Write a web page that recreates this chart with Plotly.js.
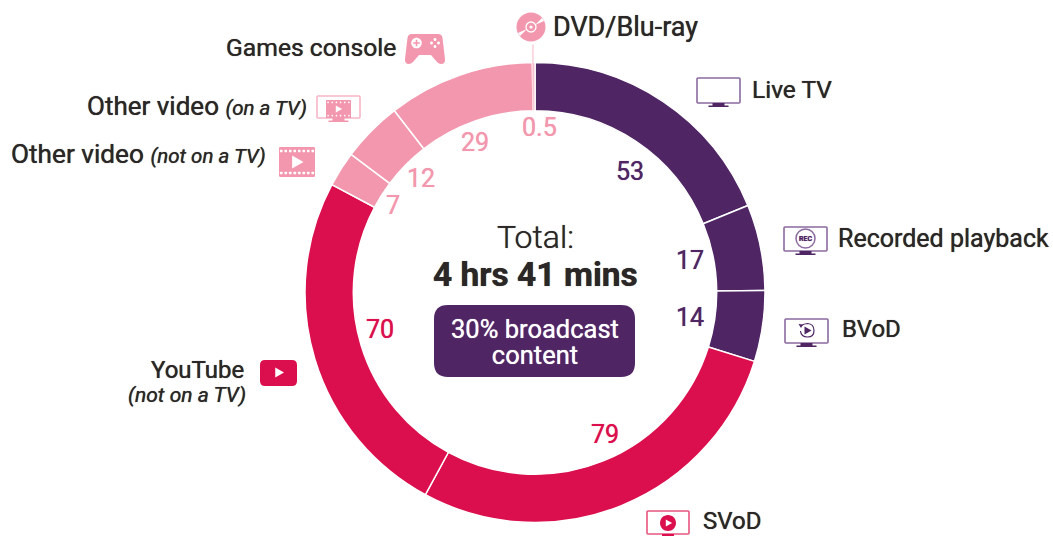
<!DOCTYPE html>
<html>
<head>
<meta charset="utf-8">
<script src="https://cdn.plot.ly/plotly-3.0.1.min.js"></script>
<style>html,body{margin:0;padding:0;background:#fff;overflow:hidden}#chart{width:1053px;height:536px}</style>
</head>
<body>
<div id="chart"></div>
<script>
const categories = ["Live TV","Recorded playback","BVoD","SVoD","YouTube (not on a TV)","Other video (not on a TV)","Other video (on a TV)","Games console","DVD/Blu-ray"];
const minutes = [53,17,14,79,70,7,12,29,0.5];
const PURPLE="#4f2564", MAGENTA="#db0f4e", PINK="#f397ae", INK="#2b2726", TVLINE="#8b6a9e";
const sliceColors=[PURPLE,PURPLE,PURPLE,MAGENTA,MAGENTA,PINK,PINK,PINK,PINK];
const W=1053,H=536,FONT="Roboto, 'Noto Sans', sans-serif";

const numberPos=[[630,171],[690,260],[690,317],[605,434],[380,329],[393,206],[421,179],[475,142],[539,127]];
const ITAL=t=>`<span style="font-size:20.5px"><i>${t}</i></span>`;
const labelText=["Live TV","Recorded playback","BVoD","SVoD","YouTube","<i>(not on a TV)</i>","Other video "+ITAL("(not on a TV)"),"Other video "+ITAL("(on a TV)"),"Games console","DVD/Blu-ray"];
const labelPos=[[750,89,"left"],[836,239,"left"],[840,329,"left"],[701,521,"left"],[246,370,"right"],[248,395,"right"],[268,154,"right"],[309,106,"right"],[398,47,"right"],[551,27,"left"]];
const labelSize=[24.5,25,24,24,24,21,26.2,26,24.7,27];
const centreBox="<span style=\"font-size:25.5px\">30% broadcast<br>content</span>";

const fx=x=>x/W, fy=y=>1-y/H;
const ann=(text,x,y,size,color,anchor,weight,extra)=>Object.assign({text,x:fx(x),y:fy(y),xref:"paper",yref:"paper",xanchor:anchor||"center",yanchor:"middle",showarrow:false,font:{family:FONT,size,color,weight:weight||400,shadow:`0 0 0.7px ${color}`}},extra||{});

function shp(d,fill,line,lw){
  const c=d.replace(/(-?[\d.]+)\s+(-?[\d.]+)/g,(m,a,b)=>fx(+a).toFixed(6)+" "+fy(+b).toFixed(6));
  return {type:"path",xref:"paper",yref:"paper",path:c,fillcolor:fill||"rgba(0,0,0,0)",line:{color:line||"rgba(0,0,0,0)",width:line?(lw||1.5):0}};
}
const rr=(x,y,w,h,r)=>`M ${x+r} ${y} L ${x+w-r} ${y} Q ${x+w} ${y} ${x+w} ${y+r} L ${x+w} ${y+h-r} Q ${x+w} ${y+h} ${x+w-r} ${y+h} L ${x+r} ${y+h} Q ${x} ${y+h} ${x} ${y+h-r} L ${x} ${y+r} Q ${x} ${y} ${x+r} ${y} Z`;
const circ=(cx,cy,r)=>{const k=0.5523*r;return `M ${cx+r} ${cy} C ${cx+r} ${cy+k} ${cx+k} ${cy+r} ${cx} ${cy+r} C ${cx-k} ${cy+r} ${cx-r} ${cy+k} ${cx-r} ${cy} C ${cx-r} ${cy-k} ${cx-k} ${cy-r} ${cx} ${cy-r} C ${cx+k} ${cy-r} ${cx+r} ${cy-k} ${cx+r} ${cy} Z`;};
const poly=pts=>"M "+pts.map(p=>p.join(" ")).join(" L ")+" Z";
const tri=(cx,cy,s)=>poly([[cx-s*0.75,cy-s],[cx+s,cy],[cx-s*0.75,cy+s]]);

function tv(x,y,w,h,line,base){
  const mid=x+w/2;
  return [shp(rr(x,y,w,h,1),"#fff",line,1.6),
          shp(poly([[mid-6,y+h],[mid+6,y+h],[mid+6,y+h+2.5],[mid+10,y+h+2.5],[mid+10,y+h+4],[mid-10,y+h+4],[mid-10,y+h+2.5],[mid-6,y+h+2.5]]),base)];
}
function film(x,y,w,h,r){
  const out=[shp(rr(x,y,w,h,r),PINK)];
  const n=Math.round(w/4.4), hs=h*0.085;
  for(let i=0;i<n;i++){
    const px=x+(i+0.5)*w/n-hs/2;
    out.push(shp(rr(px,y+h*0.09,hs,hs,0.4),"#fff"));
    out.push(shp(rr(px,y+h*0.91-hs,hs,hs,0.4),"#fff"));
  }
  return out;
}

const shapes=[];
shapes.push(shp(rr(434,305,201,72,14),PURPLE));
shapes.push(shp("M 533 45 L 533 110 L 532.9 110 L 532.9 45 Z",null,"#f9c6d3",1.2));
shapes.push(shp(circ(531,27,14.5),PINK));
shapes.push(shp(poly([[535,25],[542,18],[544,21]]),"#fff"));
shapes.push(shp(poly([[527,29],[520,36],[518,33]]),"#fff"));
shapes.push(shp(circ(531,27,5),"rgba(0,0,0,0)","#fff",1.3));
shapes.push(shp(circ(531,27,1.6),"#fff"));
shapes.push(shp("M 412 34 L 438 34 Q 442 34 442.5 38 L 445 59 Q 445.5 64 441 64 Q 439 64 437 62 L 431 55 L 419 55 L 413 62 Q 411 64 409 64 Q 404.5 64 405 59 L 407.5 38 Q 408 34 412 34 Z",PINK));
shapes.push(shp(circ(416.5,43,5.3),"#fff"));
shapes.push(shp("M 415.7 39.7 L 417.3 39.7 L 417.3 42.2 L 419.8 42.2 L 419.8 43.8 L 417.3 43.8 L 417.3 46.3 L 415.7 46.3 L 415.7 43.8 L 413.2 43.8 L 413.2 42.2 L 415.7 42.2 Z",PINK));
[[435,39.5],[435,46.5],[431.5,43],[438.5,43]].forEach(p=>shapes.push(shp(circ(p[0],p[1],1.5),"#fff")));
shapes.push(...tv(317,96,43,22,"#f8b6c7",PINK));
shapes.push(...film(326,100,25,18,0.5));
shapes.push(shp(tri(338.5,109,3.6),"#fff"));
shapes.push(...film(279,147,36,30,1.5));
shapes.push(shp(tri(297,162,6.5),"#fff"));
shapes.push(...tv(697,78,43,25,TVLINE,PURPLE));
shapes.push(...tv(784,227,43,24,TVLINE,PURPLE));
shapes.push(shp(circ(805.5,238.5,9.5),"#fff",TVLINE,1.5));
shapes.push(...tv(785,319,43,24,TVLINE,PURPLE));
shapes.push(shp("M 801 326 Q 804 323.5 807.5 323.5 Q 814 324 814 330.5 Q 814 337 807.5 337 Q 801 337 800.5 331",null,PURPLE,1.2));
shapes.push(shp(tri(807.5,330.5,4),PURPLE));
shapes.push(shp(poly([[798.5,324],[803,324.5],[801,328]]),PURPLE));
shapes.push(...tv(647,511,42,23,"#e8557f",MAGENTA));
shapes.push(shp(circ(668,523,8),MAGENTA));
shapes.push(shp(tri(668.5,523,3.6),"#fff"));
shapes.push(shp(rr(260,360,37,26,5),MAGENTA));
shapes.push(shp(tri(279,372.5,5),"#fff"));

const annotations=[];
minutes.forEach((v,i)=>annotations.push(ann(String(v),numberPos[i][0],numberPos[i][1],25,sliceColors[i],"center",400)));
labelText.forEach((t,i)=>annotations.push(ann(t,labelPos[i][0],labelPos[i][1],labelSize[i],INK,labelPos[i][2],400)));
annotations.push(ann("Total:",535,237,32,INK,"center",300));
annotations.push(ann("<b>4 hrs 41 mins</b>",535,274,33.5,INK));
annotations.push(ann(centreBox,535,342,20,"#fff","center",400));
annotations.push(ann("<b>REC</b>",805.5,238.8,7,PURPLE));

Plotly.newPlot("chart",[{
  type:"pie",labels:categories,values:minutes,sort:false,direction:"clockwise",rotation:0,hole:0.79,
  textinfo:"none",hoverinfo:"label+value",showlegend:false,
  marker:{colors:sliceColors,line:{color:"#fff",width:1.5}},
  domain:{x:[305/W,765/W],y:[(H-522.5)/H,(H-62.5)/H]}
}],{
  width:W,height:H,margin:{l:0,r:0,t:0,b:0},paper_bgcolor:"#fff",showlegend:false,
  shapes,annotations,font:{family:FONT}
},{displayModeBar:false,staticPlot:true});
</script>
</body>
</html>
